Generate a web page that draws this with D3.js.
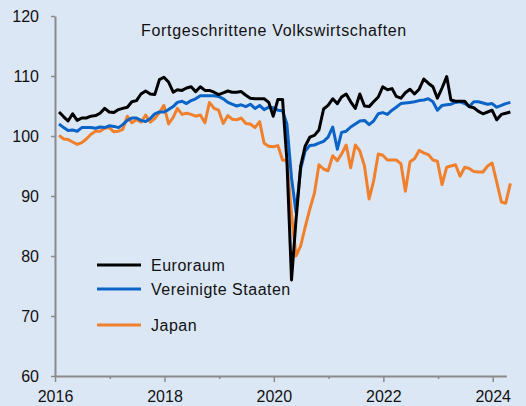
<!DOCTYPE html>
<html>
<head>
<meta charset="utf-8">
<script src="https://cdn.jsdelivr.net/npm/d3@7"></script>
<style>
  html, body { margin: 0; padding: 0; background: #dce7f5; }
  svg { display: block; font-family: "Liberation Sans", Arial, sans-serif; }
</style>
</head>
<body>
<svg id="chart" width="526" height="406"></svg>
<script>
// ---- data (monthly, Jan 2016 – Apr 2024) ----
const startYear = 2016;
const startMonth = 0;
const euroraum = [
  104.0, 103.2, 102.5, 103.7, 102.6, 103.0, 103.0, 103.3, 103.4, 103.8,
  104.6, 104.0, 103.9, 104.4, 104.6, 104.8, 105.7, 105.9, 107.0, 107.5,
  107.0, 106.9, 109.4, 109.8, 109.0, 107.3, 107.7, 107.6, 108.0, 108.2,
  107.4, 108.2, 107.6, 107.6, 107.3, 106.9, 107.2, 107.5, 107.3, 107.3,
  107.4, 106.8, 106.3, 106.2, 106.2, 106.2, 105.6, 103.3, 106.1, 106.1,
  96.0, 76.0, 86.0, 95.0, 98.3, 99.8, 100.1, 101.0, 104.5, 105.1,
  106.2, 105.4, 106.5, 107.0, 105.7, 104.6, 107.0, 105.0, 104.9, 105.7,
  106.5, 108.2, 107.7, 107.9, 106.6, 106.3, 107.2, 107.8, 107.0, 107.8,
  109.5, 108.8, 108.2, 106.3, 108.0, 109.9, 106.0, 105.8, 105.8, 105.8,
  104.9, 104.7, 104.1, 103.7, 104.0, 104.3, 102.7, 103.6, 103.8, 104.0
];
const vereinigteStaaten = [
  102.0, 101.4, 100.9, 101.0, 100.8, 101.4, 101.4, 101.4, 101.3, 101.5,
  101.4, 101.7, 101.6, 101.4, 101.9, 102.6, 103.0, 103.0, 102.6, 102.4,
  102.9, 103.7, 104.0, 104.0, 104.4, 104.9, 105.6, 105.8, 105.4, 105.9,
  106.2, 106.7, 106.7, 106.7, 106.7, 106.6, 106.2, 105.6, 105.3, 105.0,
  105.2, 104.9, 105.3, 104.6, 105.1, 104.4, 104.8, 104.7, 104.3, 104.2,
  102.0, 93.0, 87.3, 94.5, 97.5, 98.4, 98.5, 98.8, 99.1, 99.8,
  101.5, 97.8, 100.6, 100.8, 101.5, 102.0, 102.5, 102.6, 101.9, 102.5,
  103.7, 103.9, 103.6, 104.3, 104.8, 105.4, 105.5, 105.6, 105.7, 105.9,
  106.0, 106.2, 105.7, 104.3, 105.1, 105.2, 105.3, 105.6, 105.7, 105.4,
  104.9, 105.7, 105.7, 105.5, 105.3, 105.4, 104.8, 105.1, 105.4, 105.6
];
const japan = [
  100.1, 99.5, 99.4, 99.0, 98.6, 98.9, 99.5, 100.3, 100.8, 100.8,
  101.3, 101.4, 100.7, 100.8, 101.1, 103.3, 102.2, 102.7, 102.3, 103.5,
  102.3, 102.9, 103.9, 105.1, 102.0, 103.1, 104.6, 103.6, 103.8, 103.6,
  103.3, 103.5, 102.2, 105.6, 104.6, 104.3, 102.1, 103.4, 102.8, 102.7,
  103.0, 102.1, 102.0, 101.4, 102.4, 98.8, 98.3, 98.2, 98.4, 96.0,
  95.9, 87.0, 80.0, 81.7, 84.8, 87.8, 90.5, 95.2, 94.5, 94.2,
  96.7, 95.9, 97.0, 98.5, 94.7, 98.5, 97.5, 95.0, 89.5, 92.5,
  97.0, 96.8, 96.0, 96.0, 96.0, 95.4, 90.8, 95.7, 96.2, 97.6,
  97.2, 96.9, 96.0, 95.8, 91.9, 94.8, 95.0, 95.2, 93.3, 94.8,
  94.6, 94.1, 94.0, 94.0, 95.0, 95.5, 92.3, 89.0, 88.8, 92.1
];
const seriesNames = ["Euroraum", "Vereinigte Staaten", "Japan"];
const seriesColors = ["#000000", "#0a64c8", "#f0802c"];
const yTicks = [60, 70, 80, 90, 100, 110, 120];
const xYears = [2016, 2017, 2018, 2019, 2020, 2021, 2022, 2023, 2024];
const xLabelYears = [2016, 2018, 2020, 2022, 2024];
const title = "Fortgeschrittene Volkswirtschaften";

// ---- layout ----
const svg = d3.select("#chart");
const W = 526, H = 406;
svg.append("rect").attr("width", W).attr("height", H).attr("fill", "#dce7f5");

const x0 = 55, x2024 = 492.7;
const d0 = new Date(2016, 0, 1), d2024 = new Date(2024, 0, 1), dEnd = new Date(2024, 3, 1);
const pxPerMs = (x2024 - x0) / (d2024 - d0);
const x = d3.scaleTime().domain([d0, dEnd]).range([x0, x0 + (dEnd - d0) * pxPerMs]);
const y = d3.scaleLinear().domain([60, 120]).range([376, 16]);

const dateOf = i => new Date(startYear, startMonth + i, 28);

const axisColor = "#8a8a8a";

// y axis
const yAxis = d3.axisLeft(y).tickValues(yTicks).tickSize(4).tickSizeOuter(0).tickPadding(12);
const gy = svg.append("g").attr("transform", `translate(${x0},0)`).call(yAxis);
gy.select(".domain").attr("stroke", axisColor).attr("stroke-width", 2);
gy.selectAll(".tick line").attr("stroke", axisColor).attr("stroke-width", 1.5);
gy.selectAll(".tick text").attr("fill", "#111").style("font-size", "16px")
  .attr("dy", "0.36em");

// x axis
const xAxis = d3.axisBottom(x)
  .tickValues(xYears.map(yr => new Date(yr, 0, 1)))
  .tickSize(0).tickSizeOuter(0)
  .tickFormat(d => xLabelYears.includes(d.getFullYear()) ? d.getFullYear() : "");
const gx = svg.append("g").attr("transform", `translate(0,376)`).call(xAxis);
gx.select(".domain").attr("stroke", axisColor).attr("stroke-width", 2);
gx.selectAll(".tick line")
  .attr("stroke", axisColor).attr("stroke-width", 1.5)
  .attr("y2", d => (d.getFullYear() % 2 === 0 ? 6 : 3));
gx.selectAll(".tick text").attr("fill", "#111").style("font-size", "16px")
  .attr("y", 26).attr("dy", 0);

// lines
const allSeries = [japan, vereinigteStaaten, euroraum];
const allColors = [seriesColors[2], seriesColors[1], seriesColors[0]];
const line = d3.line().x((d, i) => x(dateOf(i))).y(d => y(d));
allSeries.forEach((s, k) => {
  svg.append("path").datum(s)
    .attr("d", line)
    .attr("fill", "none")
    .attr("stroke", allColors[k])
    .attr("stroke-width", 3)
    .attr("stroke-linejoin", "round");
});

// title
svg.append("text").attr("x", 274).attr("y", 36)
  .attr("text-anchor", "middle")
  .style("font-size", "16px").style("letter-spacing", "0.65px")
  .attr("fill", "#111").text(title);

// legend
const legendY = [265, 289, 325];
seriesNames.forEach((n, k) => {
  svg.append("line").attr("x1", 97).attr("x2", 141)
    .attr("y1", legendY[k]).attr("y2", legendY[k])
    .attr("stroke", seriesColors[k]).attr("stroke-width", 3);
  svg.append("text").attr("x", 151).attr("y", legendY[k]).attr("dy", "0.36em")
    .style("font-size", "16px").style("letter-spacing", "0.5px")
    .attr("fill", "#111").text(n);
});
</script>
</body>
</html>
